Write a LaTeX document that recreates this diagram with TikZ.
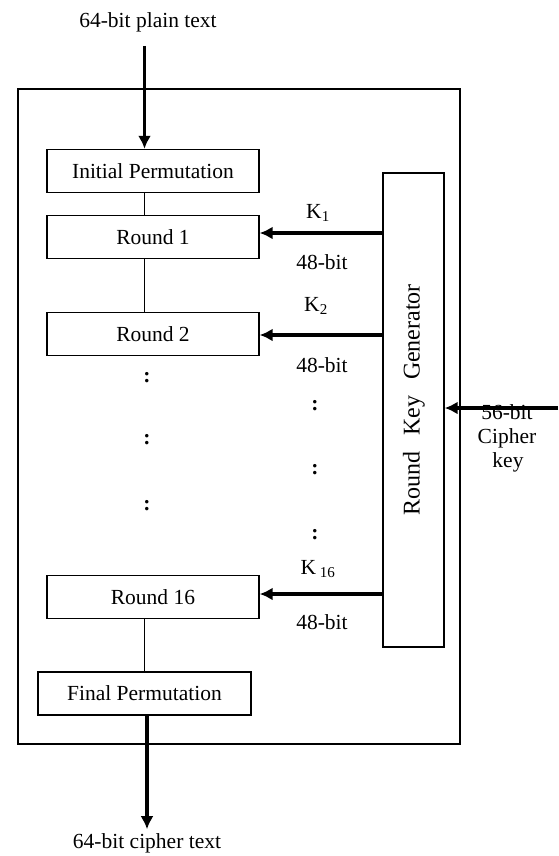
\documentclass[tikz,border=0pt]{standalone}
\usepackage{fontspec}
\setmainfont{Liberation Serif}
\usetikzlibrary{arrows.meta}

\begin{document}
\begin{tikzpicture}[
                x=1pt, y=-1pt,
                font=\fontsize{21.5}{24}\selectfont,
                line width=1.4pt,
                >={Latex[length=13pt,width=13pt]},
                % stile per i blocchi del DES
                block/.style={
                    draw,
                    minimum width=212pt,
                    minimum height=43pt,
                    inner sep=0pt
                },
                % frecce spesse
                flow/.style={->, line width=3.4pt},
                dots/.style={font=\fontsize{21.5}{24}\selectfont\bfseries}
            ]

                \useasboundingbox (0,0) rectangle (558,856);

                % ========================================================
                % 1. Cornice esterna e testo in ingresso
                % ========================================================
                \draw (18,89) rectangle (460,744);
                \node (plain) at (148,22) {64-bit plain text};

                % ========================================================
                % 2. Blocchi: permutazioni e round
                % ========================================================
                \node[block] (ip) at (153,171) {Initial Permutation};
                \node[block] (r1) at (153,237) {Round 1};
                \node[block] (r2) at (153,334) {Round 2};
                \node[block] (r16) at (153,597) {Round 16};
                \node[block, minimum width=213pt] (fp) at (144.5,693.5) {Final Permutation};

                % Linee di collegamento tra i blocchi
                \draw (ip.south -| fp) -- (r1.north -| fp);
                \draw (r1.south -| fp) -- (r2.north -| fp);
                \draw (r16.south -| fp) -- (fp.north);

                % Puntini tra Round 2 e Round 16
                \foreach \y in {378,440,506}
                    \node[dots] at (147,\y) {:};

                % ========================================================
                % 3. Generatore delle chiavi di round
                % ========================================================
                \node[draw, minimum width=61pt, minimum height=474pt, inner sep=0pt] (rkg) at (413.5,410) {};
                \node[rotate=90, font=\fontsize{24}{28}\selectfont] (rkgtext) at (414,400)
                    {Round\hspace{16pt}Key\hspace{16pt}Generator};

                % Chiavi K1, K2, K16
                \draw[flow] (rkg.west |- 0,233) -- (r1.east |- 0,233);
                \node (k1) at (318,213) {K\textsubscript{1}};
                \node (b1) at (322,262) {48-bit};

                \draw[flow] (rkg.west |- 0,335) -- (r2.east |- 0,335);
                \node (k2) at (316,306) {K\textsubscript{2}};
                \node (b2) at (322,365) {48-bit};

                \draw[flow] (rkg.west |- 0,594) -- (r16.east |- 0,594);
                \node (k16) at (318,569) {K\,\textsubscript{16}};
                \node (b16) at (322,622) {48-bit};

                % Puntini lungo le chiavi
                \foreach \y in {406,470,535}
                    \node[dots] at (315,\y) {:};

                % ========================================================
                % 4. Chiave in ingresso (56 bit)
                % ========================================================
                \coordinate (keyin) at (558,408);
                \node[align=center, inner sep=0pt] (cipherkey) at (507,438)
                    {56-bit\\Cipher\\\hspace{2pt}key};
                \draw[flow] (keyin) -- (rkg.east |- keyin);

                % ========================================================
                % 5. Ingresso e uscita
                % ========================================================
                \draw[flow] (plain.south -| fp) ++(0,10) -- (ip.north -| fp);
                \node (cipher) at (147,843) {64-bit cipher text};
                \draw[flow] (fp.south -| 147,0) -- (cipher.north);

            \end{tikzpicture}
\end{document}
